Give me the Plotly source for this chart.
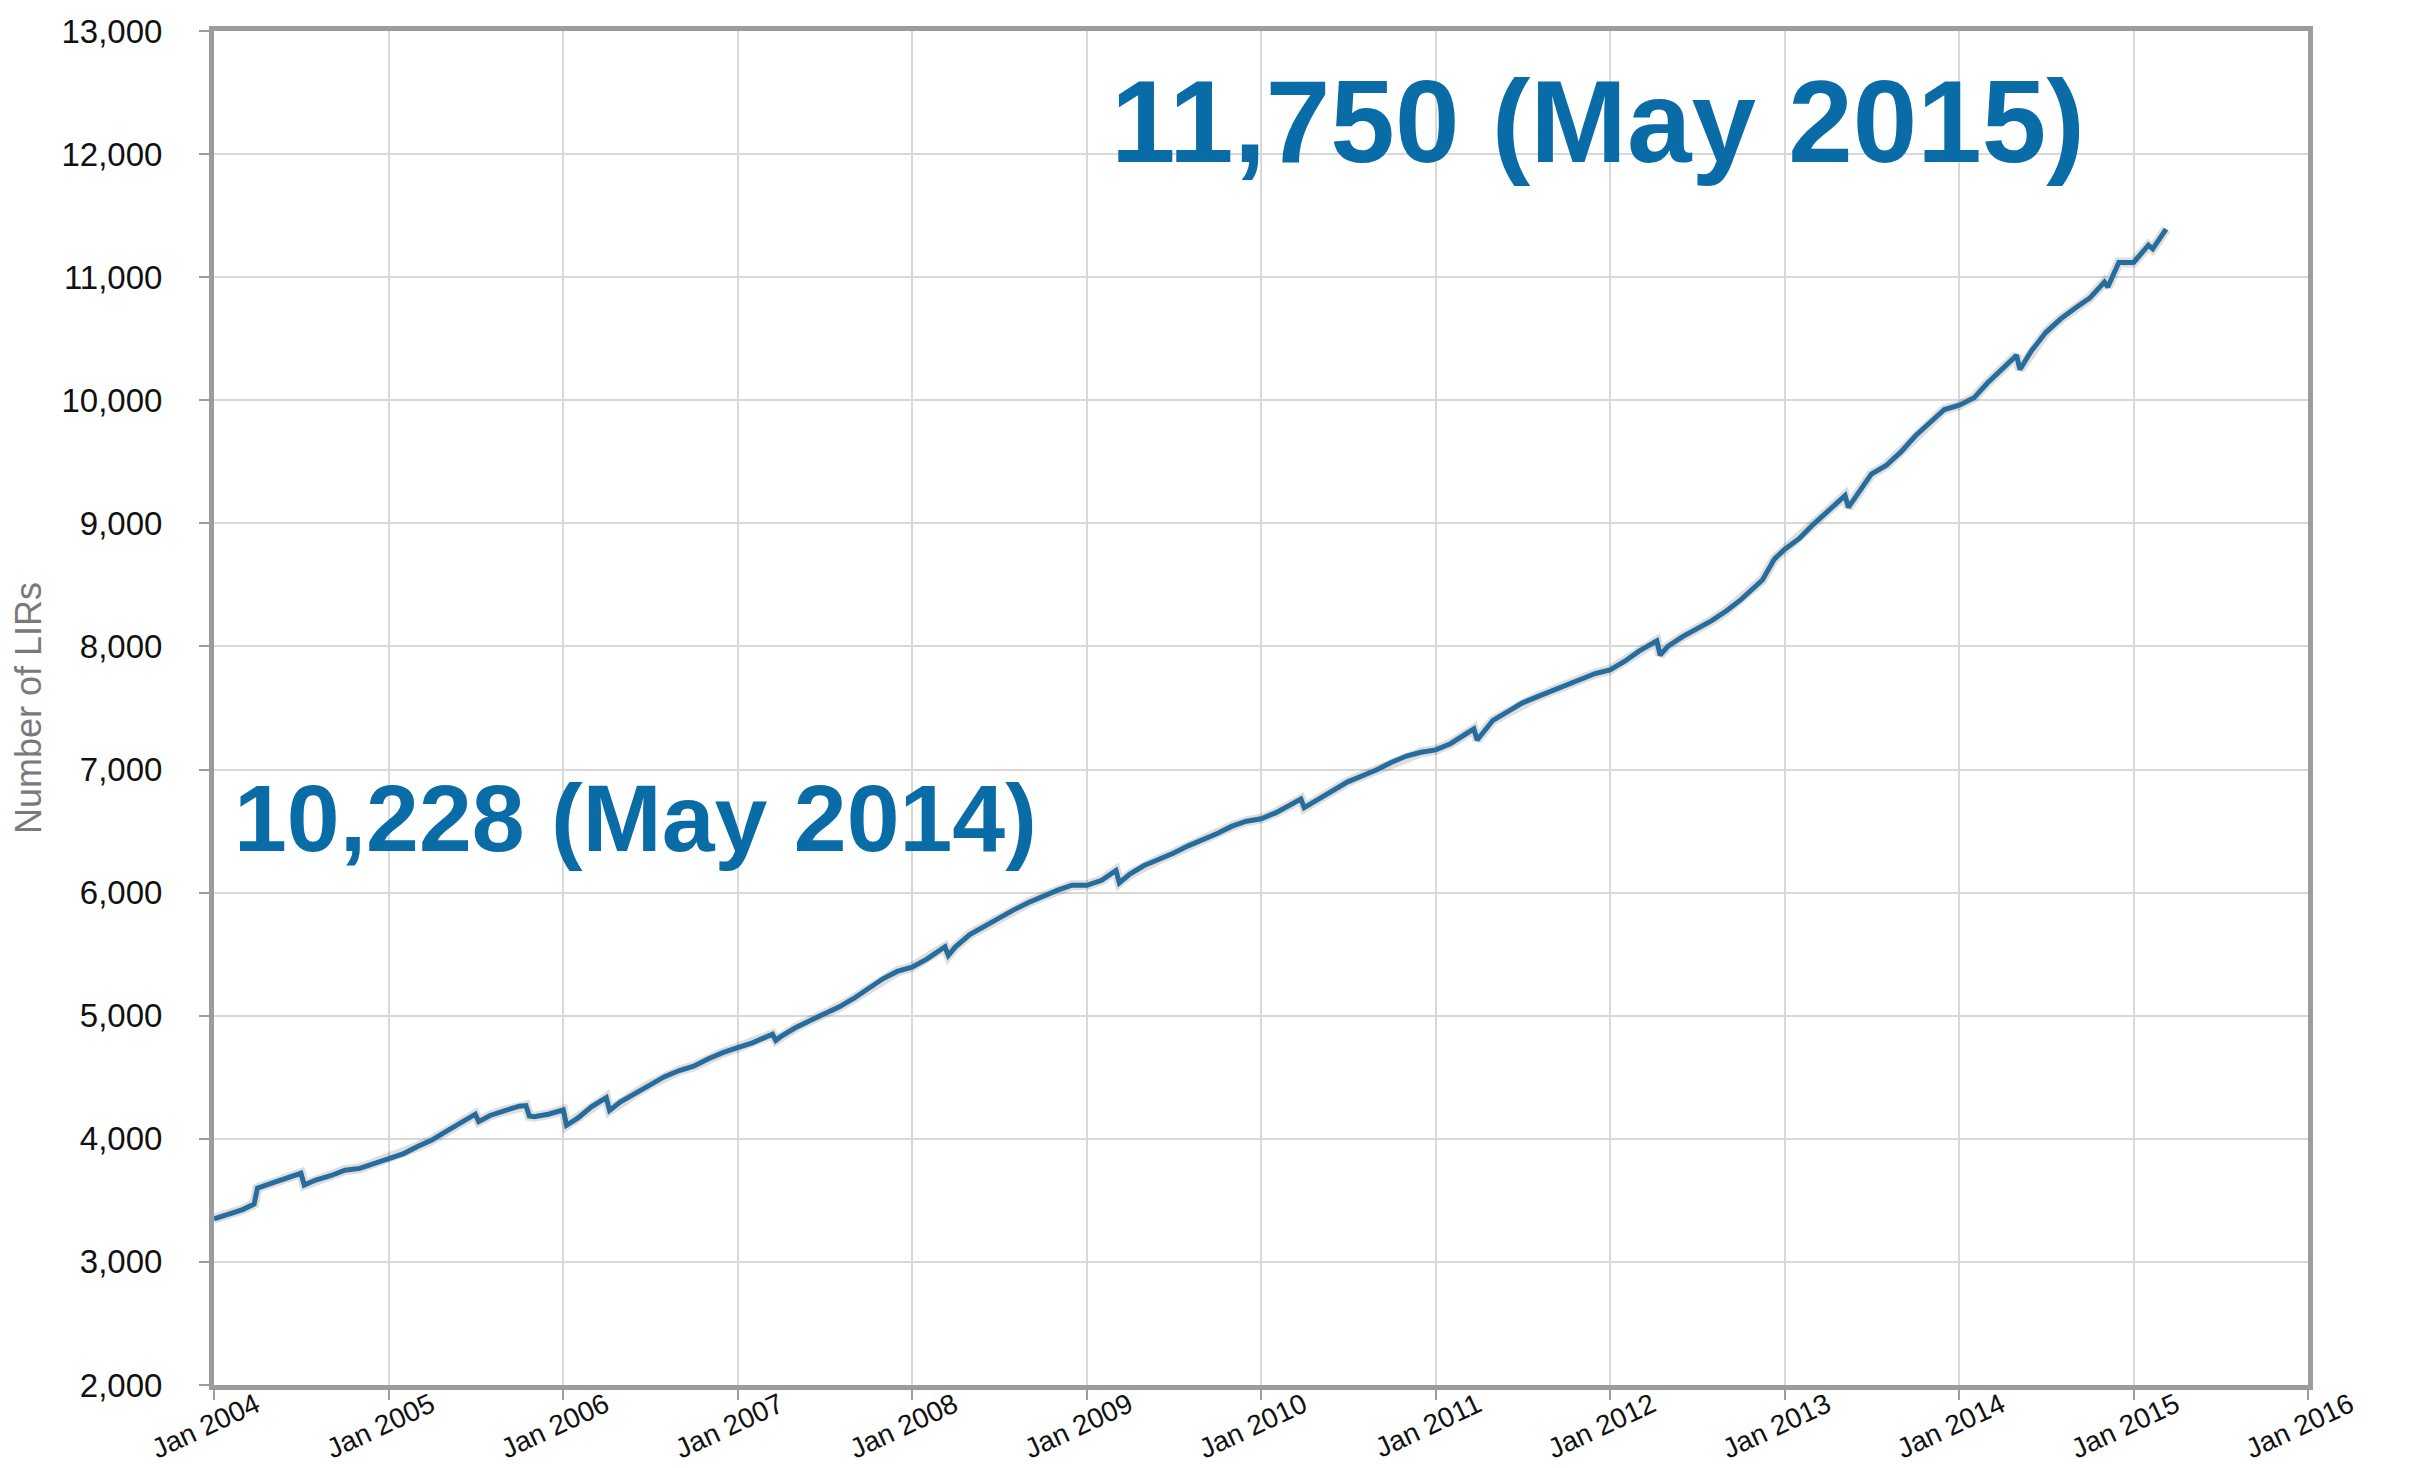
import plotly.graph_objects as go

# ---- data ----
dates = [
    "2004-01-01", "2004-02-01", "2004-03-01", "2004-03-25", "2004-04-01", "2004-05-01", "2004-06-01",
    "2004-07-01", "2004-07-08", "2004-08-01", "2004-09-01", "2004-10-01", "2004-11-01", "2004-12-01",
    "2005-01-01", "2005-02-01", "2005-03-01", "2005-04-01", "2005-05-01", "2005-06-01", "2005-07-01",
    "2005-07-08", "2005-08-01", "2005-09-01", "2005-10-01", "2005-10-15", "2005-10-22", "2005-11-01",
    "2005-12-01", "2006-01-01", "2006-01-08", "2006-02-01", "2006-03-01", "2006-04-01", "2006-04-08",
    "2006-05-01", "2006-06-01", "2006-07-01", "2006-08-01", "2006-09-01", "2006-10-01", "2006-11-01",
    "2006-12-01", "2007-01-01", "2007-02-01", "2007-03-15", "2007-03-22", "2007-04-01", "2007-05-01",
    "2007-06-01", "2007-07-01", "2007-08-01", "2007-09-01", "2007-10-01", "2007-11-01", "2007-12-01",
    "2008-01-01", "2008-02-01", "2008-03-10", "2008-03-17", "2008-04-01", "2008-05-01", "2008-06-01",
    "2008-07-01", "2008-08-01", "2008-09-01", "2008-10-01", "2008-11-01", "2008-12-01", "2009-01-01",
    "2009-02-01", "2009-03-03", "2009-03-10", "2009-04-01", "2009-05-01", "2009-06-01", "2009-07-01",
    "2009-08-01", "2009-09-01", "2009-10-01", "2009-11-01", "2009-12-01", "2010-01-01", "2010-02-01",
    "2010-03-25", "2010-04-01", "2010-05-01", "2010-06-01", "2010-07-01", "2010-08-01", "2010-09-01",
    "2010-10-01", "2010-11-01", "2010-12-01", "2011-01-01", "2011-02-01", "2011-03-22", "2011-03-29",
    "2011-05-01", "2011-06-01", "2011-07-01", "2011-08-01", "2011-09-01", "2011-10-01", "2011-11-01",
    "2011-12-01", "2012-01-01", "2012-02-01", "2012-03-01", "2012-04-08", "2012-04-15", "2012-05-01",
    "2012-06-01", "2012-07-01", "2012-08-01", "2012-09-01", "2012-10-01", "2012-11-15", "2012-12-10",
    "2013-01-01", "2013-02-01", "2013-03-01", "2013-04-01", "2013-05-07", "2013-05-14", "2013-06-01",
    "2013-07-01", "2013-08-01", "2013-09-01", "2013-10-01", "2013-11-01", "2013-12-01", "2014-01-01",
    "2014-02-01", "2014-03-01", "2014-04-01", "2014-05-01", "2014-05-08", "2014-06-01", "2014-07-01",
    "2014-08-01", "2014-09-01", "2014-10-01", "2014-11-01", "2014-11-08", "2014-12-01", "2015-01-01",
    "2015-02-01", "2015-02-10", "2015-03-10",
]
lirs = [
    3350, 3385, 3425, 3470, 3600, 3640, 3680,
    3720, 3625, 3665, 3700, 3745, 3760, 3800,
    3840, 3880, 3935, 3990, 4060, 4130, 4200,
    4140, 4190, 4230, 4265, 4270, 4185, 4180,
    4200, 4235, 4110, 4170, 4260, 4335, 4230,
    4300, 4370, 4440, 4505, 4555, 4590, 4650,
    4700, 4740, 4780, 4850, 4800, 4830, 4900,
    4960, 5010, 5070, 5140, 5220, 5300, 5360,
    5395, 5460, 5560, 5490, 5560, 5660, 5730,
    5800, 5860, 5920, 5970, 6020, 6060, 6060,
    6100, 6180, 6080, 6150, 6220, 6270, 6320,
    6380, 6430, 6480, 6540, 6580, 6600, 6650,
    6760, 6690, 6760, 6830, 6900, 6950, 7000,
    7060, 7110, 7140, 7160, 7210, 7330, 7240,
    7400, 7470, 7540, 7590, 7640, 7690, 7740,
    7780, 7810, 7880, 7960, 8045, 7930, 8000,
    8080, 8140, 8210, 8290, 8380, 8540, 8710,
    8790, 8880, 8990, 9100, 9225, 9130, 9230,
    9400, 9470, 9580, 9710, 9820, 9925, 9960,
    10020, 10140, 10260, 10365, 10250, 10400, 10550,
    10660, 10750, 10830, 10960, 10920, 11120, 11120,
    11260, 11230, 11390,
]

x_tick_vals = ["2004-01-01", "2005-01-01", "2006-01-01", "2007-01-01", "2008-01-01", "2009-01-01",
               "2010-01-01", "2011-01-01", "2012-01-01", "2013-01-01", "2014-01-01", "2015-01-01",
               "2016-01-01"]
x_tick_text = ["Jan 2004", "Jan 2005", "Jan 2006", "Jan 2007", "Jan 2008", "Jan 2009", "Jan 2010",
               "Jan 2011", "Jan 2012", "Jan 2013", "Jan 2014", "Jan 2015", "Jan 2016"]
y_tick_vals = [2000, 3000, 4000, 5000, 6000, 7000, 8000, 9000, 10000, 11000, 12000, 13000]
y_tick_text = ["2,000", "3,000", "4,000", "5,000", "6,000", "7,000", "8,000", "9,000",
               "10,000", "11,000", "12,000", "13,000"]

y_title = "Number of LIRs"
note_2015 = "11,750 (May 2015)"
note_2014 = "10,228 (May 2014)"

LINE = "#266c9d"
NOTE = "#0a6ca6"
FONT = "Liberation Sans, Arial, Helvetica, sans-serif"

fig = go.Figure()
# soft shadow underneath
fig.add_trace(go.Scatter(x=dates, y=lirs, mode="lines",
                         line=dict(color="rgba(0,0,0,0.13)", width=10),
                         hoverinfo="skip", showlegend=False))
fig.add_trace(go.Scatter(x=dates, y=lirs, mode="lines",
                         line=dict(color=LINE, width=5),
                         showlegend=False))

fig.update_layout(
    width=2410, height=1468,
    margin=dict(l=206, r=110, t=23, b=91),
    paper_bgcolor="white", plot_bgcolor="white",
    font=dict(family=FONT, color="#111"),
    xaxis=dict(
        range=["2004-01-01", "2016-01-01"],
        tickmode="array", tickvals=x_tick_vals, ticktext=x_tick_text,
        tickangle=-25, tickfont=dict(size=28, color="#111"),
        ticklabelshift=42, ticklabelstandoff=-22,
        showgrid=True, gridcolor="#d8d8d8", gridwidth=2,
        showline=True, linecolor="#9c9c9c", linewidth=5, mirror=True,
        ticks="outside", ticklen=10, tickcolor="#9c9c9c", tickwidth=2,
        zeroline=False, automargin=False,
    ),
    yaxis=dict(
        range=[2000, 13000],
        tickmode="array", tickvals=y_tick_vals, ticktext=y_tick_text,
        tickfont=dict(size=33, color="#111"),
        showgrid=True, gridcolor="#d8d8d8", gridwidth=2,
        showline=True, linecolor="#9c9c9c", linewidth=5, mirror=True,
        ticks="outside", ticklen=10, tickcolor="#9c9c9c", tickwidth=2,
        ticklabelstandoff=30,
        zeroline=False, automargin=False,
        title=dict(text=y_title, font=dict(size=36, color="#7a7a7a"), standoff=14),
    ),
    annotations=[
        dict(text=note_2015, xref="paper", yref="paper", x=0.4275, y=0.933,
             xanchor="left", yanchor="middle", showarrow=False,
             font=dict(size=116, color=NOTE, family=FONT, weight="bold")),
        dict(text=note_2014, xref="paper", yref="paper", x=0.0085, y=0.419,
             xanchor="left", yanchor="middle", showarrow=False,
             font=dict(size=95, color=NOTE, family=FONT, weight="bold")),
    ],
)

fig.write_html("out.html")
